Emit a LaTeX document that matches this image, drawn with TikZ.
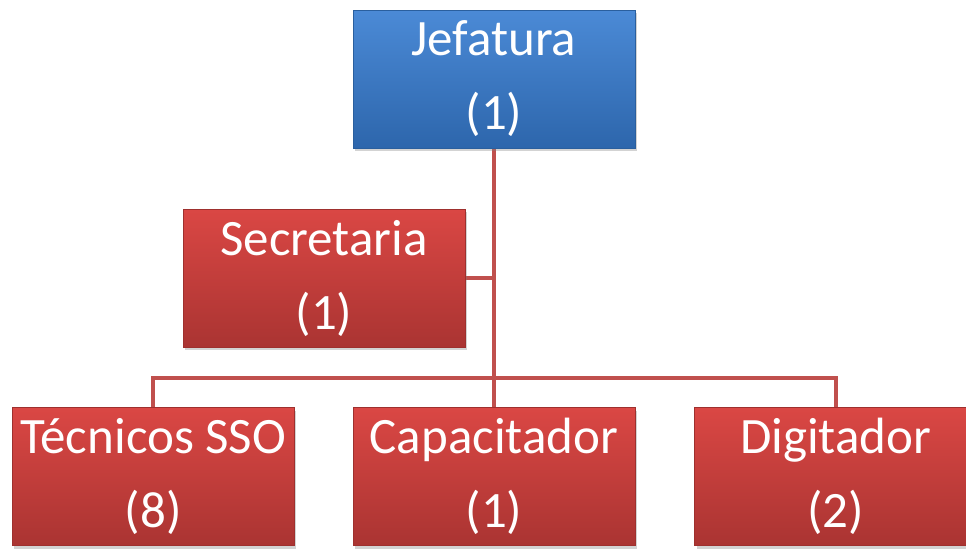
\documentclass[tikz,border=0pt]{standalone}
\usepackage{fontspec}
\setmainfont{Carlito}
\usetikzlibrary{positioning,shadows,backgrounds}

\definecolor{rojoarriba}{HTML}{DA4744}
\definecolor{rojoabajo}{HTML}{AA3432}
\definecolor{rojoborde}{HTML}{9E302E}
\definecolor{azularriba}{HTML}{4B8AD6}
\definecolor{azulabajo}{HTML}{2D66AC}
\definecolor{azulborde}{HTML}{2A5F9E}
\definecolor{linea}{HTML}{C0504D}

\begin{document}
\begin{tikzpicture}[x=1pt,y=-1pt,node distance=58pt]
  \tikzstyle{area}=[rectangle,minimum width=282pt,minimum height=138pt,
    top color=rojoarriba,bottom color=rojoabajo,draw=rojoborde,line width=0.8pt,
    text=white,align=center,font=\fontsize{51}{74}\selectfont,
    drop shadow={opacity=0.35,shadow xshift=2pt,shadow yshift=-3pt}]
  \tikzstyle{jefe}=[area,top color=azularriba,bottom color=azulabajo,draw=azulborde]
  \tikzstyle{conector}=[draw=linea,line width=4pt]

  \useasboundingbox (0,0) rectangle (966,549);

  \node[jefe] (jef) at (494,79) {Jefatura\\(1)};
  \node[area] (sec) at (324,278) {Secretaria\\(1)};
  \node[area] (cap) [below=259pt of jef] {Capacitador\\(1)};
  \node[area] (tec) [left=of cap] {Técnicos SSO\\(8)};
  \node[area] (dig) [right=59pt of cap] {Digitador\\(2)};
  \coordinate (hub) at (494,378);

  \begin{pgfonlayer}{background}
  \path[conector]
  (jef.south) -- (hub)
  (sec.east) -| (jef.south)
  (tec.north) |- (hub) -| (dig.north)
  (cap.north) -- (hub);
  \end{pgfonlayer}
\end{tikzpicture}
\end{document}
